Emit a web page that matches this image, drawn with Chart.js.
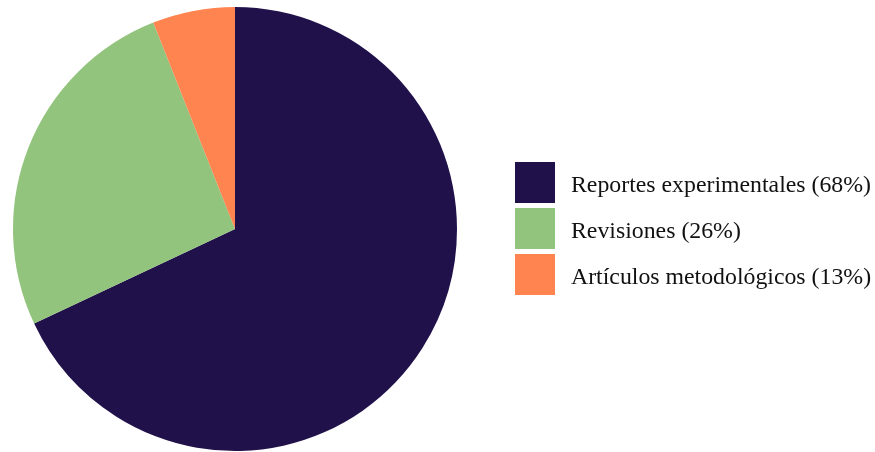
<!DOCTYPE html>
<html>
<head>
<meta charset="utf-8">
<script src="https://cdn.jsdelivr.net/npm/chart.js@4/dist/chart.umd.min.js"></script>
<style>
  html, body { margin: 0; padding: 0; background: #ffffff; }
  #wrap { position: relative; width: 875px; height: 452px; }
  #myChart { position: absolute; left: 0; top: 0; }
  #legend { position: absolute; left: 515px; top: 162px; font-family: "Liberation Serif", "Times New Roman", serif; font-size: 23.8px; color: #111111; }
  .item { display: flex; align-items: center; height: 41px; margin-bottom: 5px; }
  .box { width: 40px; height: 41px; margin-right: 16px; flex: none; }
  .txt { position: relative; top: 2px; white-space: nowrap; }
</style>
</head>
<body>
<div id="wrap">
  <canvas id="myChart" width="875" height="452"></canvas>
  <div id="legend"></div>
</div>
<script>
const categories = [
    "Reportes experimentales (68%)",
    "Revisiones (26%)",
    "Artículos metodológicos (13%)"
];
const shares = [68, 26, 6];
const colors = ["#20114a", "#93c47d", "#ff8450"];

function drawTypesPie() {
    const ctx = document.getElementById("myChart");
    const myChart = new Chart(ctx, {
        type: "pie",
        data: {
            labels: categories,
            datasets: [{
                data: shares,
                backgroundColor: colors,
                borderWidth: 0
            }]
        },
        options: {
            responsive: false,
            animation: false,
            layout: {
                padding: { left: 13, top: 7, bottom: 1, right: 418 }
            },
            plugins: {
                legend: { display: false },
                tooltip: { enabled: false }
            }
        }
    });

    // legend next to the pie, one row per category
    const legend = document.getElementById("legend");
    categories.forEach(function(name, i) {
        const row = document.createElement("div");
        row.className = "item";
        const box = document.createElement("div");
        box.className = "box";
        box.style.backgroundColor = colors[i];
        const txt = document.createElement("span");
        txt.className = "txt";
        txt.textContent = name;
        row.appendChild(box);
        row.appendChild(txt);
        legend.appendChild(row);
    });
}

document.addEventListener("DOMContentLoaded", drawTypesPie);
</script>
</body>
</html>
